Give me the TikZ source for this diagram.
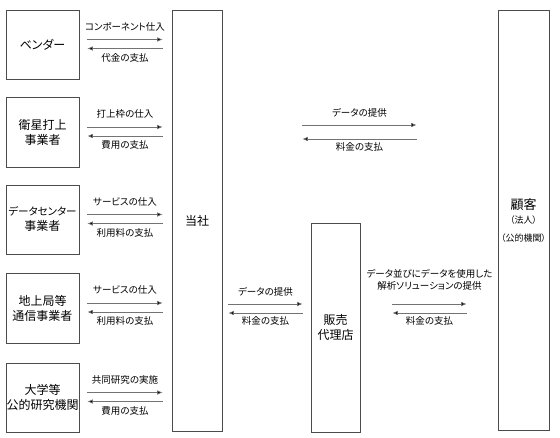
\documentclass[tikz,border=0pt]{standalone}
\usepackage{fontspec}
\setmainfont[RawFeature=+palt]{Noto Sans CJK JP}
\usetikzlibrary{arrows.meta,calc}

\begin{document}
\begin{tikzpicture}[x=1pt,y=-1pt,
  box/.style={draw=black!70,line width=0.8pt,align=center,inner sep=0pt,
    font=\fontsize{12}{15}\selectfont},
  flow/.style={draw=black!55,line width=0.6pt,-{Latex[length=5.5pt,width=4.5pt,fill=black]}},
  lbl/.style={font=\fontsize{9.5}{12}\selectfont,align=center}]
\useasboundingbox (0,0) rectangle (560,437);

% suppliers
\node[box,minimum width=73pt,minimum height=69pt] (vendor) at (42.5,44.5) {ベンダー};
\node[box,minimum width=73pt,minimum height=70pt] (launch) at (42.5,132) {衛星打上\\事業者};
\node[box,minimum width=73pt,minimum height=69pt] (center) at (42.5,219.5)
  {{\fontsize{10.5}{15}\selectfont データセンター}\\事業者};
\node[box,minimum width=73pt,minimum height=70pt] (ground) at (42.5,308) {地上局等\\通信事業者};
\node[box,minimum width=73pt,minimum height=69pt] (univ) at (42.5,397.5) {大学等\\公的研究機関};

% company, dealer, customer
\node[box,minimum width=50pt,minimum height=421pt] (tosha) at (197,220.5) {当社};
\node[box,minimum width=49pt,minimum height=209pt] (dealer) at (335.5,327.5) {販売\\代理店};
\node[box,minimum width=51pt,minimum height=420pt] (customer) at (523.5,220)
  {{\fontsize{13}{15}\selectfont 顧客}\\[-1pt]{\fontsize{9}{10}\selectfont （法人）}\\[3pt]{\fontsize{9}{10}\selectfont （公的機関）}};

% supplier flows
\draw[flow] ($(vendor.east)+(8,-5)$) -- ($(tosha.west |- vendor.east)+(-9,-5)$)
  node[lbl,midway,yshift=13pt] {コンポーネント仕入};
\draw[flow] ($(tosha.west |- vendor.east)+(-9,4)$) -- ($(vendor.east)+(8,4)$)
  node[lbl,midway,yshift=-9pt] {代金の支払};

\draw[flow] ($(launch.east)+(8,-5)$) -- ($(tosha.west |- launch.east)+(-9,-5)$)
  node[lbl,midway,yshift=13pt] {打上枠の仕入};
\draw[flow] ($(tosha.west |- launch.east)+(-9,4)$) -- ($(launch.east)+(8,4)$)
  node[lbl,midway,yshift=-9pt] {費用の支払};

\draw[flow] ($(center.east)+(8,-5)$) -- ($(tosha.west |- center.east)+(-9,-5)$)
  node[lbl,midway,yshift=13pt] {サービスの仕入};
\draw[flow] ($(tosha.west |- center.east)+(-9,4)$) -- ($(center.east)+(8,4)$)
  node[lbl,midway,yshift=-9pt] {利用料の支払};

\draw[flow] ($(ground.east)+(8,-5)$) -- ($(tosha.west |- ground.east)+(-9,-5)$)
  node[lbl,midway,yshift=13pt] {サービスの仕入};
\draw[flow] ($(tosha.west |- ground.east)+(-9,4)$) -- ($(ground.east)+(8,4)$)
  node[lbl,midway,yshift=-9pt] {利用料の支払};

\draw[flow] ($(univ.east)+(8,-5)$) -- ($(tosha.west |- univ.east)+(-9,-5)$)
  node[lbl,midway,yshift=13pt] {共同研究の実施};
\draw[flow] ($(tosha.west |- univ.east)+(-9,4)$) -- ($(univ.east)+(8,4)$)
  node[lbl,midway,yshift=-9pt] {費用の支払};

% direct sales
\draw[flow] ($(tosha.east |- 0,125)+(80,0)$) -- ($(customer.west |- 0,125)+(-81,0)$)
  node[lbl,midway,yshift=12pt] {データの提供};
\draw[flow] ($(customer.west |- 0,139)+(-81,0)$) -- ($(tosha.east |- 0,139)+(80,0)$)
  node[lbl,midway,yshift=-8pt] {料金の支払};

% sales via dealer
\draw[flow] ($(tosha.east |- 0,304)+(6,0)$) -- ($(dealer.west |- 0,304)+(-8,0)$)
  node[lbl,midway,yshift=12pt] {データの提供};
\draw[flow] ($(dealer.west |- 0,313)+(-8,0)$) -- ($(tosha.east |- 0,313)+(6,0)$)
  node[lbl,midway,yshift=-8pt] {料金の支払};

\draw[flow] ($(dealer.east |- 0,304)+(32,0)$) -- ($(customer.west |- 0,304)+(-31,0)$)
  node[lbl,midway,yshift=24.5pt] {データ並びにデータを使用した\\解析ソリューションの提供};
\draw[flow] ($(customer.west |- 0,313)+(-31,0)$) -- ($(dealer.east |- 0,313)+(32,0)$)
  node[lbl,midway,yshift=-8pt] {料金の支払};
\end{tikzpicture}
\end{document}
